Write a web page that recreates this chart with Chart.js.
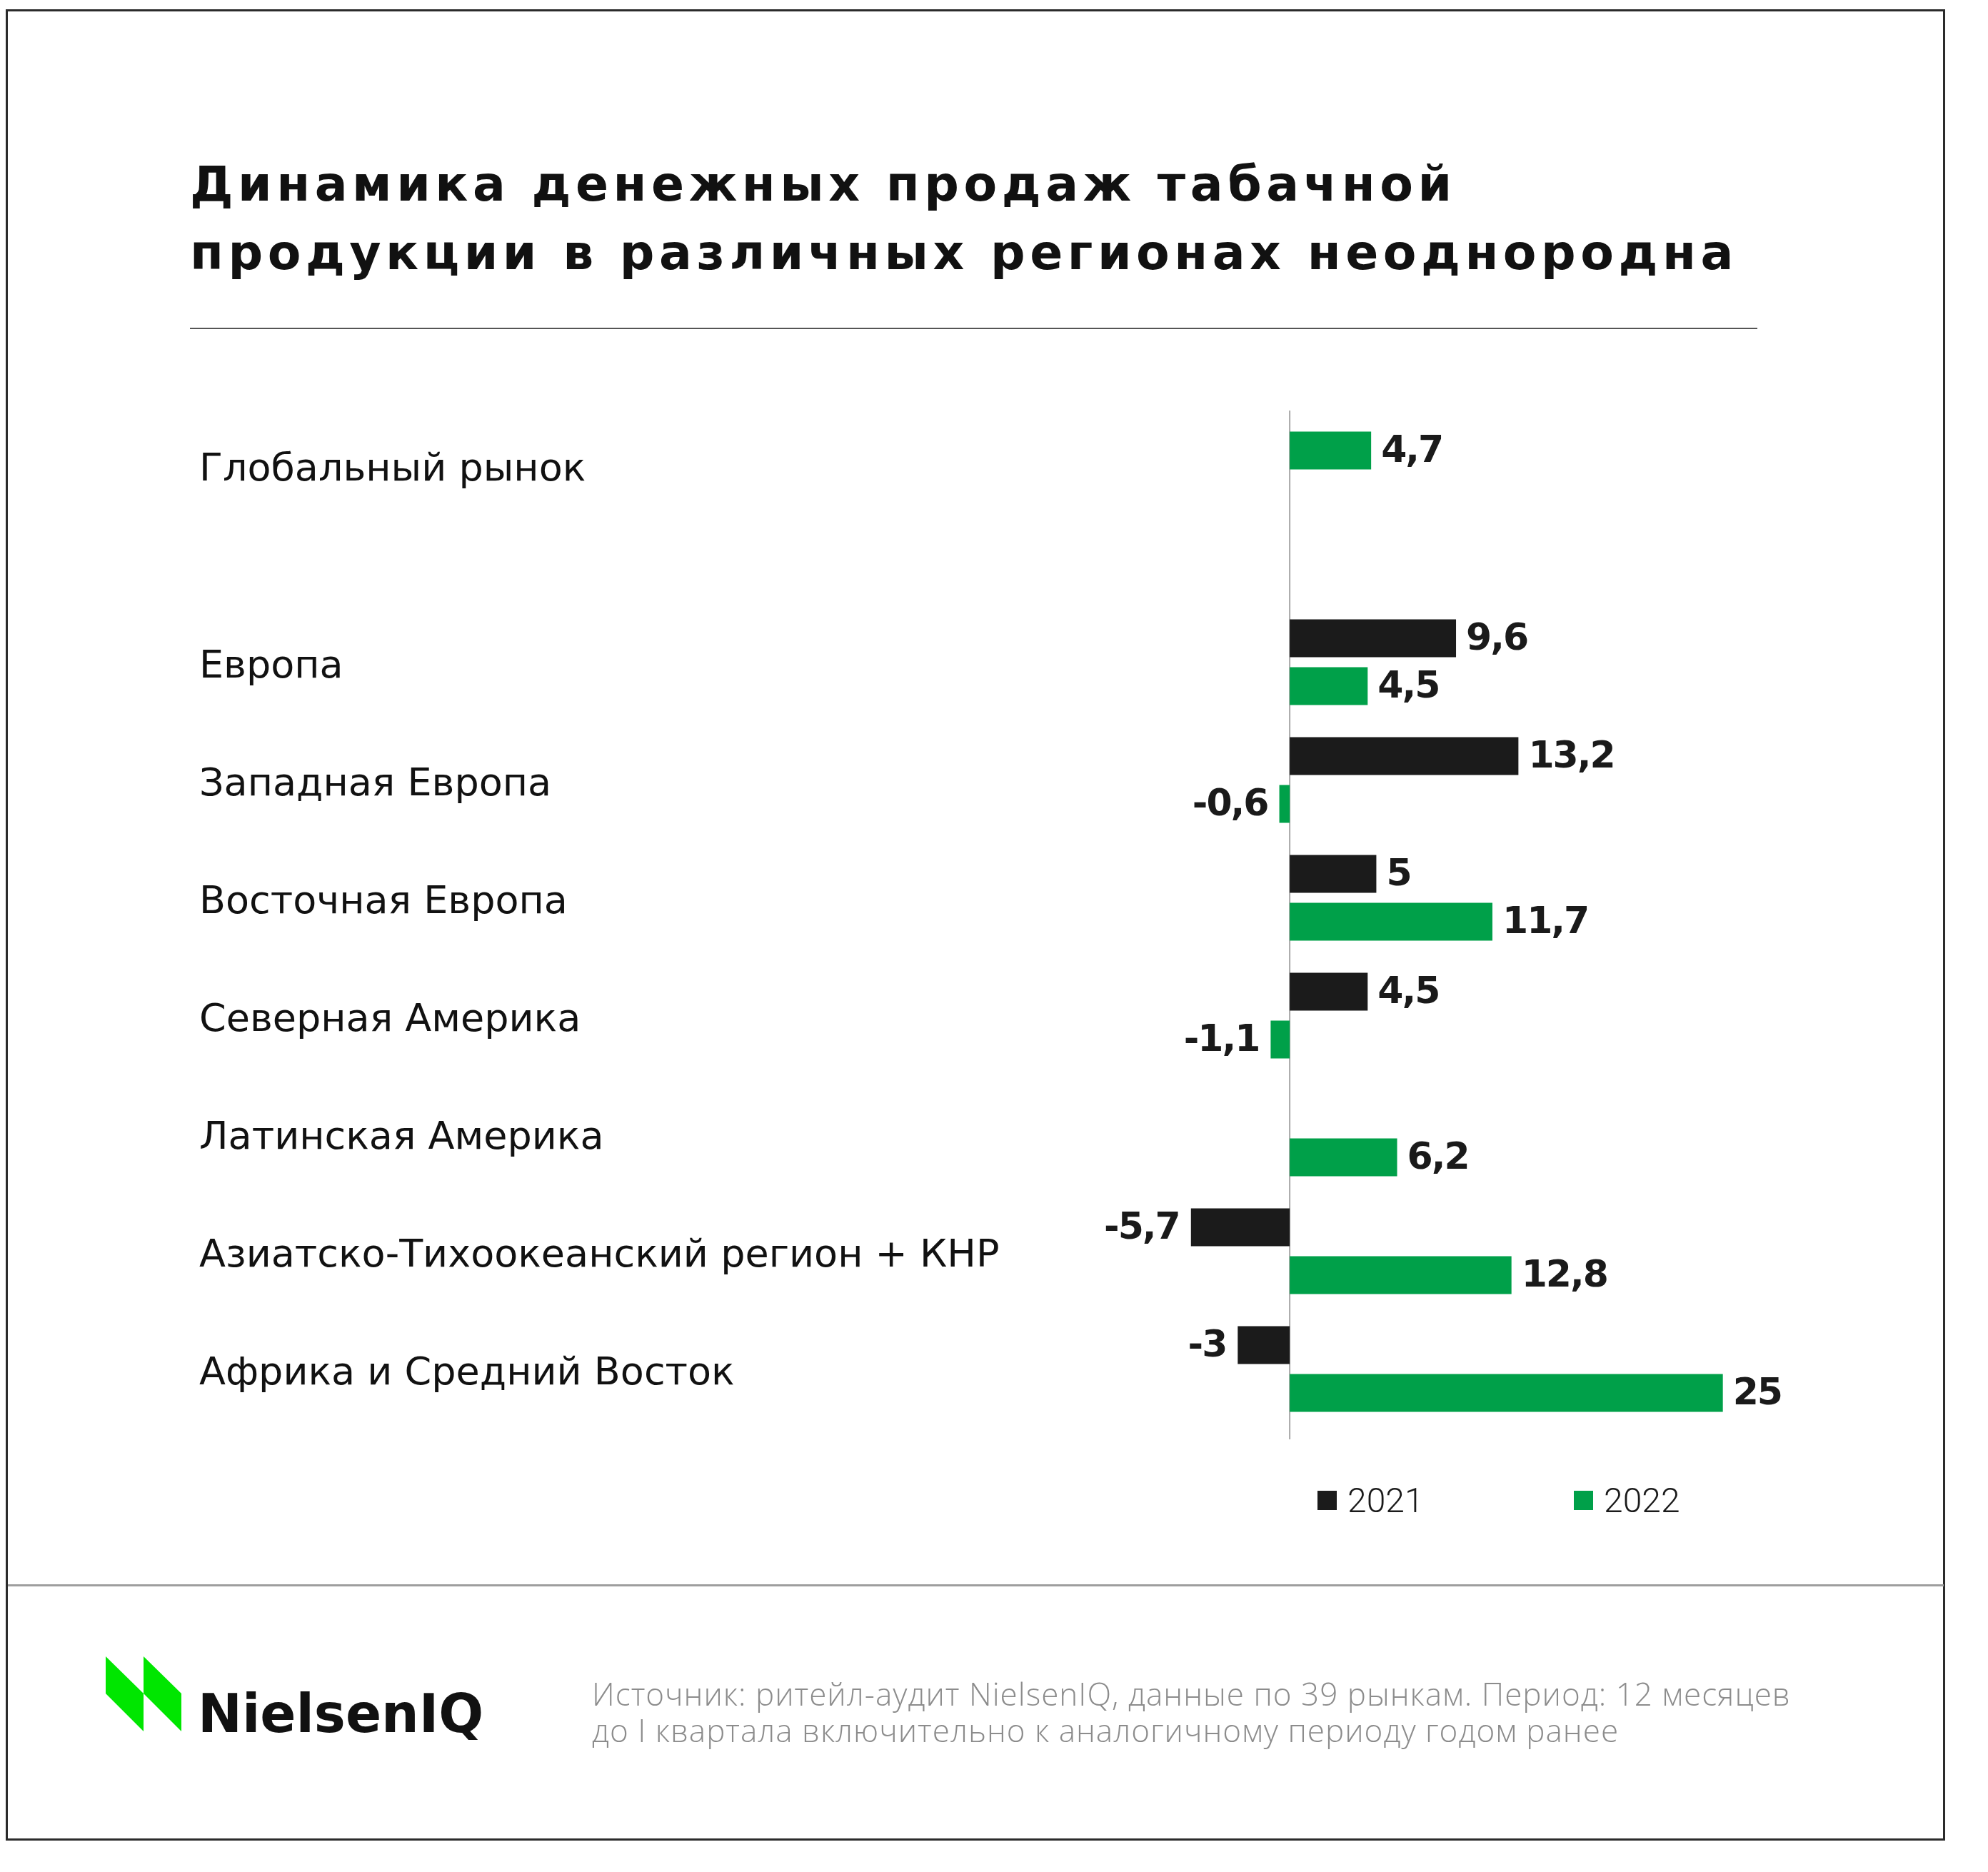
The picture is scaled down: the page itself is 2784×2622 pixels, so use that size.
<!DOCTYPE html>
<html>
<head>
  <meta charset="UTF-8">
  <title>Динамика денежных продаж табачной продукции</title>
  <script src="https://cdn.jsdelivr.net/npm/chart.js@4.4.1/dist/chart.umd.min.js"></script>
  <style type="text/css">
    body { margin: 0; background: #fff; }
    #page { position: relative; width: 2784px; height: 2622px; overflow: hidden; background: #fff; }
    #frame { position: absolute; left: 8px; top: 13px; width: 2716px; height: 2565px; box-sizing: border-box; border: 3px solid #2b2b2b; }
    #title { position: absolute; left: 266px; top: 210px; font-family: "DejaVu Sans", sans-serif; font-weight: bold;
             font-size: 68px; line-height: 96px; color: #111; letter-spacing: 6.5px; white-space: nowrap; }
    #title-rule { position: absolute; left: 266px; top: 459px; width: 2195px; height: 2px; background: #555; }
    #foot-rule { position: absolute; left: 11px; top: 2219px; width: 2711px; height: 3px; background: #9e9e9e; }
    #chart-box { position: absolute; left: 0; top: 0; }
    #legend { position: absolute; left: 1845px; top: 2076px; display: flex; font-family: Roboto, sans-serif; font-weight: 300;
              font-size: 48px; color: #1a1a1a; }
    #legend .item { width: 359px; display: flex; align-items: center; height: 50px; }
    #legend .box { width: 27px; height: 27px; margin-right: 15px; }
    #logo { position: absolute; left: 140px; top: 2310px; }
    #source { position: absolute; left: 829px; top: 2347px; font-family: "Open Sans", sans-serif; font-weight: 300;
              font-size: 44px; line-height: 51px; letter-spacing: 1px; color: #8c8c8c; white-space: nowrap; }
  </style>
</head>
<body>
<div id="page">
  <div id="frame"></div>
  <div id="title">Динамика денежных продаж табачной<br>продукции в различных регионах неоднородна</div>
  <div id="title-rule"></div>

  <div id="chart-box"><canvas id="mycanvas" width="2784" height="2622"></canvas></div>
  <div id="legend"></div>

  <div id="foot-rule"></div>
  <svg id="logo" width="560" height="140" viewBox="0 0 560 140">
    <polygon points="8,10 61,62 61,115 8,62" fill="#00e600"/>
    <polygon points="61,10 114,62 114,115 61,62" fill="#00e600"/>
    <text x="137" y="116" font-family="DejaVu Sans, sans-serif" font-weight="bold" font-size="74" fill="#111">NielsenIQ</text>
  </svg>
  <div id="source">Источник: ритейл-аудит NielsenIQ, данные по 39 рынкам. Период: 12 месяцев<br>до I квартала включительно к аналогичному периоду годом ранее</div>
</div>

<script>
// categories (the empty one is a spacer row under the global market)
var categories = ['Глобальный рынок', '', 'Европа', 'Западная Европа', 'Восточная Европа',
  'Северная Америка', 'Латинская Америка', 'Азиатско-Тихоокеанский регион + КНР', 'Африка и Средний Восток'];
var seriesNames = ['2021', '2022'];
var values2021 = [null, null, 9.6, 13.2, 5, 4.5, null, -5.7, -3];
var values2022 = [4.7, null, 4.5, -0.6, 11.7, -1.1, 6.2, 12.8, 25];
var colors = ['#1b1b1b', '#00a049'];

function fmt(v) {
  return String(v).replace('.', ',');
}

// value labels at the bar ends
var valueLabels = {
  id: 'valueLabels',
  afterDatasetsDraw: function(chart) {
    var ctx = chart.ctx;
    ctx.save();
    ctx.font = 'bold 52px "DejaVu Sans", sans-serif';
    ctx.letterSpacing = '-2px';
    ctx.fillStyle = '#1a1a1a';
    ctx.textBaseline = 'middle';
    chart.data.datasets.forEach(function(ds, di) {
      var meta = chart.getDatasetMeta(di);
      meta.data.forEach(function(bar, i) {
        var v = ds.data[i];
        if (v === null || v === undefined) return;
        if (v >= 0) {
          ctx.textAlign = 'left';
          ctx.fillText(fmt(v), bar.x + 14, bar.y + 2);
        } else {
          ctx.textAlign = 'right';
          ctx.fillText(fmt(v), bar.x - 16, bar.y + 2);
        }
      });
    });
    ctx.restore();
  }
};

// thin vertical line at zero
var zeroLine = {
  id: 'zeroLine',
  beforeDatasetsDraw: function(chart) {
    var ctx = chart.ctx, area = chart.chartArea;
    var x0 = chart.scales.x.getPixelForValue(0);
    ctx.save();
    ctx.strokeStyle = '#a9a9a9';
    ctx.lineWidth = 2;
    ctx.beginPath();
    ctx.moveTo(x0, area.top + 60);
    ctx.lineTo(x0, area.bottom + 16);
    ctx.stroke();
    ctx.restore();
  }
};

var chartdata = {
  labels: categories,
  datasets: [
    { label: seriesNames[0], data: values2021, backgroundColor: colors[0] },
    { label: seriesNames[1], data: values2022, backgroundColor: colors[1] }
  ]
};

var barGraph = new Chart(document.getElementById('mycanvas'), {
  type: 'bar',
  data: chartdata,
  plugins: [zeroLine, valueLabels],
  options: {
    indexAxis: 'y',
    responsive: false,
    animation: false,
    devicePixelRatio: 1,
    categoryPercentage: 0.812,
    barPercentage: 0.791,
    layout: { padding: { left: 279, top: 515, right: 250, bottom: 622 } },
    plugins: { legend: { display: false }, tooltip: { enabled: false } },
    scales: {
      x: { display: false, min: -8, max: 30 },
      y: {
        grid: { display: false },
        border: { display: false },
        afterFit: function(scale) { scale.width = 1333; },
        ticks: {
          autoSkip: false,
          crossAlign: 'far',
          padding: 0,
          labelOffset: 7,
          color: '#111',
          font: { family: '"DejaVu Sans", sans-serif', size: 54, lineHeight: 1.0 },
          callback: function(value, index) {
            // the global row label sits a little lower than its bar
            return index === 0 ? ['', '', categories[0]] : categories[index];
          }
        }
      }
    }
  }
});

// legend built from the datasets
var legend = document.getElementById('legend');
chartdata.datasets.forEach(function(ds) {
  var item = document.createElement('div');
  item.className = 'item';
  item.innerHTML = '<span class="box" style="background:' + ds.backgroundColor + '"></span><span>' + ds.label + '</span>';
  legend.appendChild(item);
});
</script>
</body>
</html>
